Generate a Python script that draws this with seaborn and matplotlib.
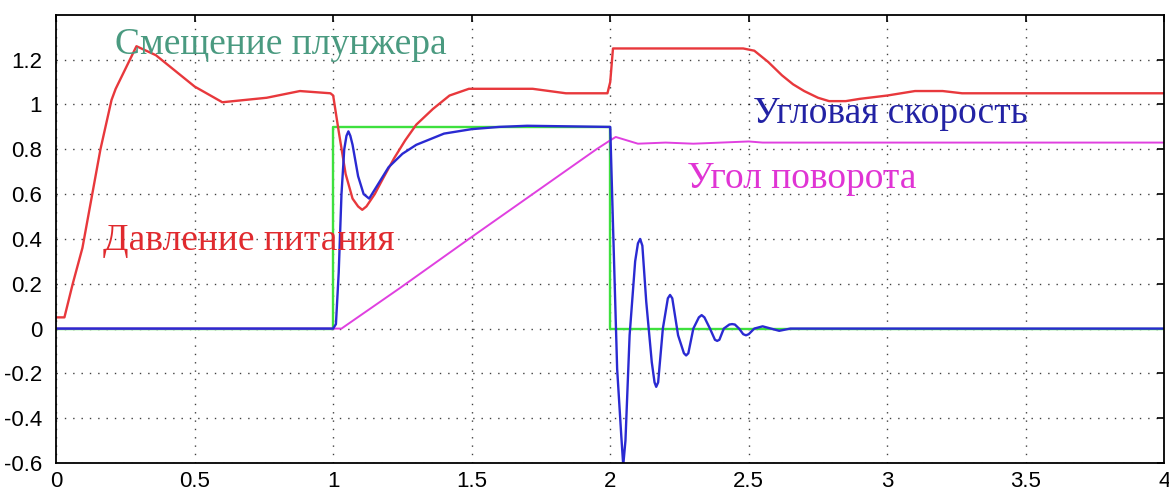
import numpy as np
import pandas as pd
import matplotlib
matplotlib.use("Agg")
import matplotlib.pyplot as plt
import seaborn as sns

# ---- data ----
t_pressure = [0.0, 0.03, 0.06, 0.095, 0.16, 0.2, 0.215, 0.29, 0.36, 0.5, 0.6, 0.76, 0.88, 0.99,
              1.0, 1.02, 1.045, 1.07, 1.09, 1.105, 1.12, 1.15, 1.18, 1.22, 1.26, 1.30, 1.36, 1.42, 1.49, 1.72, 1.84,
              1.99, 2.0, 2.01, 2.48, 2.52, 2.57, 2.62, 2.66, 2.70, 2.75, 2.79, 2.85, 2.90, 3.0, 3.1, 3.2, 3.27, 4.0]
pressure = [0.05, 0.05, 0.2, 0.36, 0.8, 1.02, 1.07, 1.26, 1.22, 1.08, 1.01, 1.03, 1.06, 1.05,
            1.04, 0.88, 0.69, 0.58, 0.545, 0.53, 0.545, 0.6, 0.67, 0.76, 0.84, 0.91, 0.98, 1.04, 1.07, 1.07, 1.05,
            1.05, 1.10, 1.25, 1.25, 1.24, 1.19, 1.13, 1.09, 1.06, 1.03, 1.015, 1.015, 1.025, 1.04, 1.06, 1.06, 1.05, 1.05]

t_plunger = [0.0, 1.0, 1.0, 2.0, 2.0, 4.0]
plunger = [0.0, 0.0, 0.9, 0.9, 0.0, 0.0]

t_angle = [0.0, 1.03, 1.24, 1.49, 1.72, 1.95, 2.0, 2.02, 2.06, 2.1, 2.2, 2.3, 2.4, 2.5, 2.55, 4.0]
angle = [0.0, 0.0, 0.18, 0.40, 0.60, 0.80, 0.84, 0.855, 0.84, 0.825, 0.83, 0.825, 0.83, 0.835, 0.83, 0.83]

t_speed = [0.0, 1.0, 1.01, 1.02, 1.03, 1.04, 1.048, 1.055, 1.062, 1.07, 1.09, 1.11, 1.13, 1.16, 1.2, 1.25, 1.3,
           1.4, 1.5, 1.6, 1.7, 1.99, 2.0, 2.011, 2.025, 2.04, 2.047, 2.055, 2.07, 2.09, 2.1, 2.108, 2.116, 2.13, 2.15,
           2.16, 2.166, 2.173, 2.19, 2.208, 2.216, 2.224, 2.245, 2.266, 2.274, 2.282, 2.30, 2.32, 2.33, 2.34, 2.36,
           2.378, 2.386, 2.394, 2.41, 2.43, 2.44, 2.45, 2.465, 2.48, 2.49, 2.50,
           2.52, 2.55, 2.58, 2.61, 2.65, 2.7, 4.0]
speed = [0.0, 0.0, 0.02, 0.25, 0.6, 0.8, 0.86, 0.88, 0.86, 0.82, 0.68, 0.6, 0.58, 0.64, 0.72, 0.78, 0.82,
         0.87, 0.89, 0.9, 0.905, 0.9, 0.9, 0.42, -0.18, -0.48, -0.61, -0.5, -0.03, 0.3, 0.38, 0.40, 0.37, 0.12, -0.15,
         -0.24, -0.26, -0.24, 0.0, 0.135, 0.15, 0.135, -0.03, -0.11, -0.12, -0.11, 0.0, 0.05, 0.06, 0.05, 0.0,
         -0.05, -0.055, -0.05, 0.0, 0.018, 0.02, 0.018, 0.0, -0.025, -0.03, -0.025,
         0.0, 0.01, 0.0, -0.01, 0.0, 0.0, 0.0]

x_ticks = [0, 0.5, 1, 1.5, 2, 2.5, 3, 3.5, 4]
x_tick_labels = ["0", "0.5", "1", "1.5", "2", "2.5", "3", "3.5", "4"]
y_ticks = [-0.6, -0.4, -0.2, 0, 0.2, 0.4, 0.6, 0.8, 1, 1.2]
y_tick_labels = ["-0.6", "-0.4", "-0.2", "0", "0.2", "0.4", "0.6", "0.8", "1", "1.2"]

labels = ["Смещение плунжера", "Давление питания", "Угловая скорость", "Угол поворота"]
label_x = [0.81, 0.695, 3.01, 2.69]
label_y = [1.265, 0.39, 0.96, 0.67]

# ---- styling ----
sns.set_theme(style="white")
plt.rcParams['font.family'] = ['Liberation Sans', 'DejaVu Sans']

c_red = "#e8383c"
c_green = "#3ee03e"
c_blue = "#2a2ad2"
c_mag = "#e040e0"
label_colors = ["#4a9a80", "#e02a2e", "#2222a4", "#e034d4"]

fig = plt.figure(figsize=(11.69, 4.95), dpi=100)
ax = fig.add_axes([0.048, 0.0646, 0.948, 0.9054])
ax.set_facecolor("white")

lw = 1.7
sns.lineplot(x=t_plunger, y=plunger, ax=ax, color=c_green, lw=lw, estimator=None, sort=False)
sns.lineplot(x=t_angle, y=angle, ax=ax, color=c_mag, lw=1.4, estimator=None, sort=False)
sns.lineplot(x=t_pressure, y=pressure, ax=ax, color=c_red, lw=lw, estimator=None, sort=False)
sns.lineplot(x=t_speed, y=speed, ax=ax, color=c_blue, lw=lw, estimator=None, sort=False)

ax.set_xlim(0, 4)
ax.set_ylim(-0.6, 1.4)
ax.set_xticks(x_ticks)
ax.set_xticklabels(x_tick_labels)
ax.set_yticks(y_ticks)
ax.set_yticklabels(y_tick_labels)
ax.tick_params(direction="in", length=5, width=1.2, top=True, right=True,
               labelsize=16, colors="black", pad=6)
ax.tick_params(axis="y", pad=10)
for s in ax.spines.values():
    s.set_visible(True)
    s.set_color("black")
    s.set_linewidth(1.3)
ax.grid(True, color="black", linestyle=(0, (1, 5)), linewidth=1.0, alpha=0.75)
ax.set_axisbelow(True)

for txt, x, y, c in zip(labels, label_x, label_y, label_colors):
    ax.text(x, y, txt, color=c, fontsize=27, family=["Liberation Serif"],
            ha="center", va="center")

ax.set_xlabel("")
ax.set_ylabel("")
fig.savefig("out.png", dpi=100, facecolor="white")
